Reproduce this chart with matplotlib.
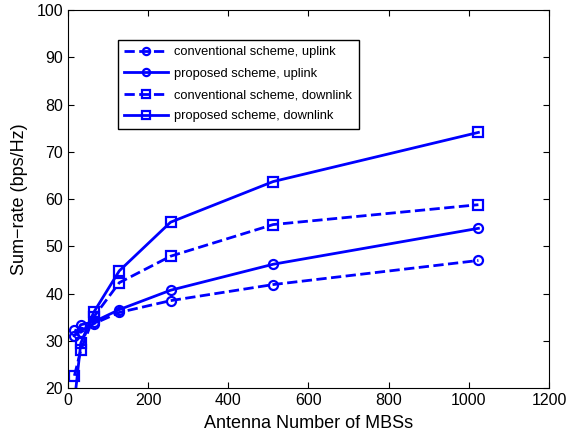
import matplotlib
matplotlib.use('Agg')
import matplotlib.pyplot as plt

plt.rcParams['font.family'] = ['Liberation Sans', 'DejaVu Sans']

antennas = [16, 32, 64, 128, 256, 512, 1024]
conv_uplink = [32.3, 31.8, 33.6, 36.0, 38.5, 41.9, 47.0]
prop_uplink = [31.0, 33.4, 34.0, 36.6, 40.7, 46.2, 53.8]
conv_downlink = [22.6, 28.0, 35.0, 42.3, 47.9, 54.6, 58.8]
prop_downlink = [17.0, 29.5, 36.0, 44.8, 55.1, 63.7, 74.1]

fig = plt.figure(figsize=(5.83, 4.36), dpi=100)
ax = fig.add_axes([0.1166, 0.110, 0.825, 0.867])

style = dict(color='blue', linewidth=2, markersize=6.5, markerfacecolor='none',
             markeredgewidth=1.6)
ax.plot(antennas, conv_uplink, '--o', label='conventional scheme, uplink', **style)
ax.plot(antennas, prop_uplink, '-o', label='proposed scheme, uplink', **style)
ax.plot(antennas, conv_downlink, '--s', label='conventional scheme, downlink', **style)
ax.plot(antennas, prop_downlink, '-s', label='proposed scheme, downlink', **style)

ax.set_xlim(0, 1200)
ax.set_ylim(20, 100)
ax.set_xticks(range(0, 1201, 200))
ax.set_yticks(range(20, 101, 10))
ax.tick_params(direction='in', labelsize=11.5, top=True, right=True, length=4)
ax.set_xlabel('Antenna Number of MBSs', fontsize=13, labelpad=5)
ax.set_ylabel('Sum\u2212rate (bps/Hz)', fontsize=13, labelpad=6)

leg = ax.legend(loc='upper left', bbox_to_anchor=(0.103, 0.921), fontsize=9.3,
                fancybox=False, edgecolor='black', framealpha=1,
                handlelength=3.4, handletextpad=0.5, borderpad=0.5,
                labelspacing=0.72, markerscale=0.8, borderaxespad=0)
leg.get_frame().set_linewidth(1)

fig.savefig('out.png', dpi=100)
plt.close(fig)
